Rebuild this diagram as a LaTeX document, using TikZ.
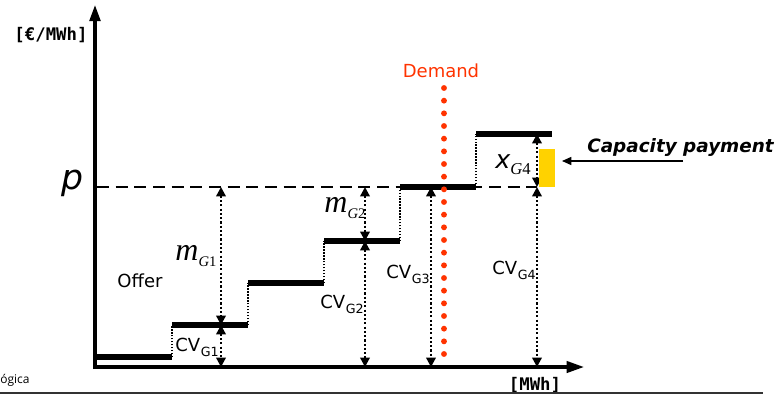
\documentclass[tikz,border=0pt]{standalone}
\usepackage{fontspec}
\setmainfont{DejaVu Sans}
\newfontfamily\unitfont{DejaVu Sans Mono}
\newfontfamily\footfont{Open Sans}
\newfontfamily\serifmath{Liberation Serif}
\usetikzlibrary{arrows.meta}
\definecolor{demandred}{HTML}{FF3300}
\definecolor{capyellow}{HTML}{FFD200}
\newcommand{\subsans}[1]{\raisebox{-0.5ex}{\fontsize{9.5}{10}\selectfont\kern0.5pt #1}}
\newcommand{\submath}[3][11]{\raisebox{-0.45ex}{\serifmath\fontsize{#1}{12}\selectfont\itshape #2\upshape #3}}
\begin{document}
\begin{tikzpicture}[x=0.75pt,y=-0.75pt,
  axisline/.style={line width=2.3pt},
  stepline/.style={line width=3.8pt},
  riser/.style={line width=1.1pt, dash pattern=on 1.1pt off 1.1pt},
  measure/.style={line width=1.7pt, dash pattern=on 1.6pt off 1.6pt,
     {Triangle[width=7pt,length=7pt]}-{Triangle[width=7pt,length=7pt]}},
  pline/.style={line width=1.5pt, dash pattern=on 9pt off 5pt},
  lbl/.style={inner sep=0pt, font=\fontsize{13.5}{16}\selectfont},
  unitlbl/.style={inner sep=0pt, font=\unitfont\bfseries\fontsize{13}{16}\selectfont},
  mathlbl/.style={inner sep=0pt, font=\serifmath\itshape\fontsize{24}{26}\selectfont},
  demandline/.style={demandred, line width=4.4pt, line cap=round, dash pattern=on 0pt off 9.5pt}
]
\path[use as bounding box] (0,0) rectangle (779,396);

% axes
\coordinate (yaxB) at (95,369);
\coordinate (yaxT) at (95,5);
\coordinate (xaxL) at (93,367);
\coordinate (xaxR) at (584,367);
\draw[axisline, -{Triangle[width=8pt,length=12pt]}] (yaxB) -- (yaxT);
\draw[axisline, -{Triangle[width=8.5pt,length=13pt]}] (xaxL) -- (xaxR);

% price line
\coordinate (pL) at (97,187);
\coordinate (pR) at (537,187);
\draw[pline] (pL) -- (pR);

% step coordinates
\coordinate (s0a) at (95,357);  \coordinate (s0b) at (172,357);
\coordinate (s1a) at (172,325); \coordinate (s1b) at (248,325);
\coordinate (s2a) at (248,283); \coordinate (s2b) at (324,283);
\coordinate (s3a) at (324,241); \coordinate (s3b) at (400,241);
\coordinate (s4a) at (400,187); \coordinate (s4b) at (476,187);
\coordinate (s5a) at (476,134); \coordinate (s5b) at (552,134);

% risers
\draw[riser] (s0b) -- (s1a);
\draw[riser] (s1b) -- (s2a);
\draw[riser] (s2b) -- (s3a);
\draw[riser] (s3b) -- (s4a);
\draw[riser] (s4b) -- (s5a);

% steps
\foreach \a/\b in {s0a/s0b,s1a/s1b,s2a/s2b,s3a/s3b,s4a/s4b,s5a/s5b}
  \draw[stepline] (\a) -- (\b);

% measurement arrows
\coordinate (g1p) at (221,187); \coordinate (g1s) at (221,325); \coordinate (g1z) at (221,367);
\coordinate (g2p) at (365,187); \coordinate (g2s) at (365,241); \coordinate (g2z) at (365,367);
\coordinate (g3p) at (431,187); \coordinate (g3z) at (431,367);
\coordinate (g4t) at (537,134); \coordinate (g4p) at (537,187); \coordinate (g4z) at (537,367);
\draw[measure] (g1p) -- (g1s);
\draw[measure] (g1s) -- (g1z);
\draw[measure] (g2p) -- (g2s);
\draw[measure] (g2s) -- (g2z);
\draw[measure] (g3p) -- (g3z);
\draw[measure] (g4t) -- (g4p);
\draw[measure] (g4p) -- (g4z);

% capacity payment bar
\fill[capyellow] (539,149) rectangle (555,187);
\node[lbl, font=\bfseries\itshape\fontsize{13.8}{16}\selectfont, anchor=west] (cap) at (587,147) {Capacity payment};
\coordinate (capT) at (683,161);
\coordinate (capH) at (562,161);
\draw[line width=1.1pt, -{Triangle[width=6pt,length=7pt]}] (capT) -- (capH);

% demand
\coordinate (dT) at (444,88);
\coordinate (dB) at (444,366);
\draw[demandline] (dT) -- (dB);
\node[lbl, text=demandred] (dem) at (441,71) {Demand};

% labels
\node[unitlbl] (yunit) at (51,35) {[€/MWh]};
\node[unitlbl] (xunit) at (535,385) {[MWh]};
\node[inner sep=0pt, font=\itshape\fontsize{26}{28}\selectfont] (plbl) at (73,183) {p};
\node[lbl] (offer) at (140,281) {Offer};
\node[mathlbl] (mg1) at (196,256) {m\submath{G}{1}};
\node[mathlbl] (mg2) at (345,208) {m\submath{G}{2}};
\node[inner sep=0pt, font=\itshape\fontsize{19}{20}\selectfont] (xg4) at (513,165) {x\submath[12.5]{G}{4}};
\node[lbl] (cv1) at (197,347) {CV\subsans{G1}};
\node[lbl] (cv2) at (342,304) {CV\subsans{G2}};
\node[lbl] (cv3) at (408,274) {CV\subsans{G3}};
\node[lbl] (cv4) at (514,270) {CV\subsans{G4}};

% footer
\node[inner sep=0pt, anchor=west, font=\footfont\fontsize{9}{10}\selectfont] (foot) at (0,380) {ógica};
\coordinate (fL) at (0,393);
\coordinate (fR) at (763,393);
\draw[line width=1pt, black!80] (fL) -- (fR);
\end{tikzpicture}
\end{document}
